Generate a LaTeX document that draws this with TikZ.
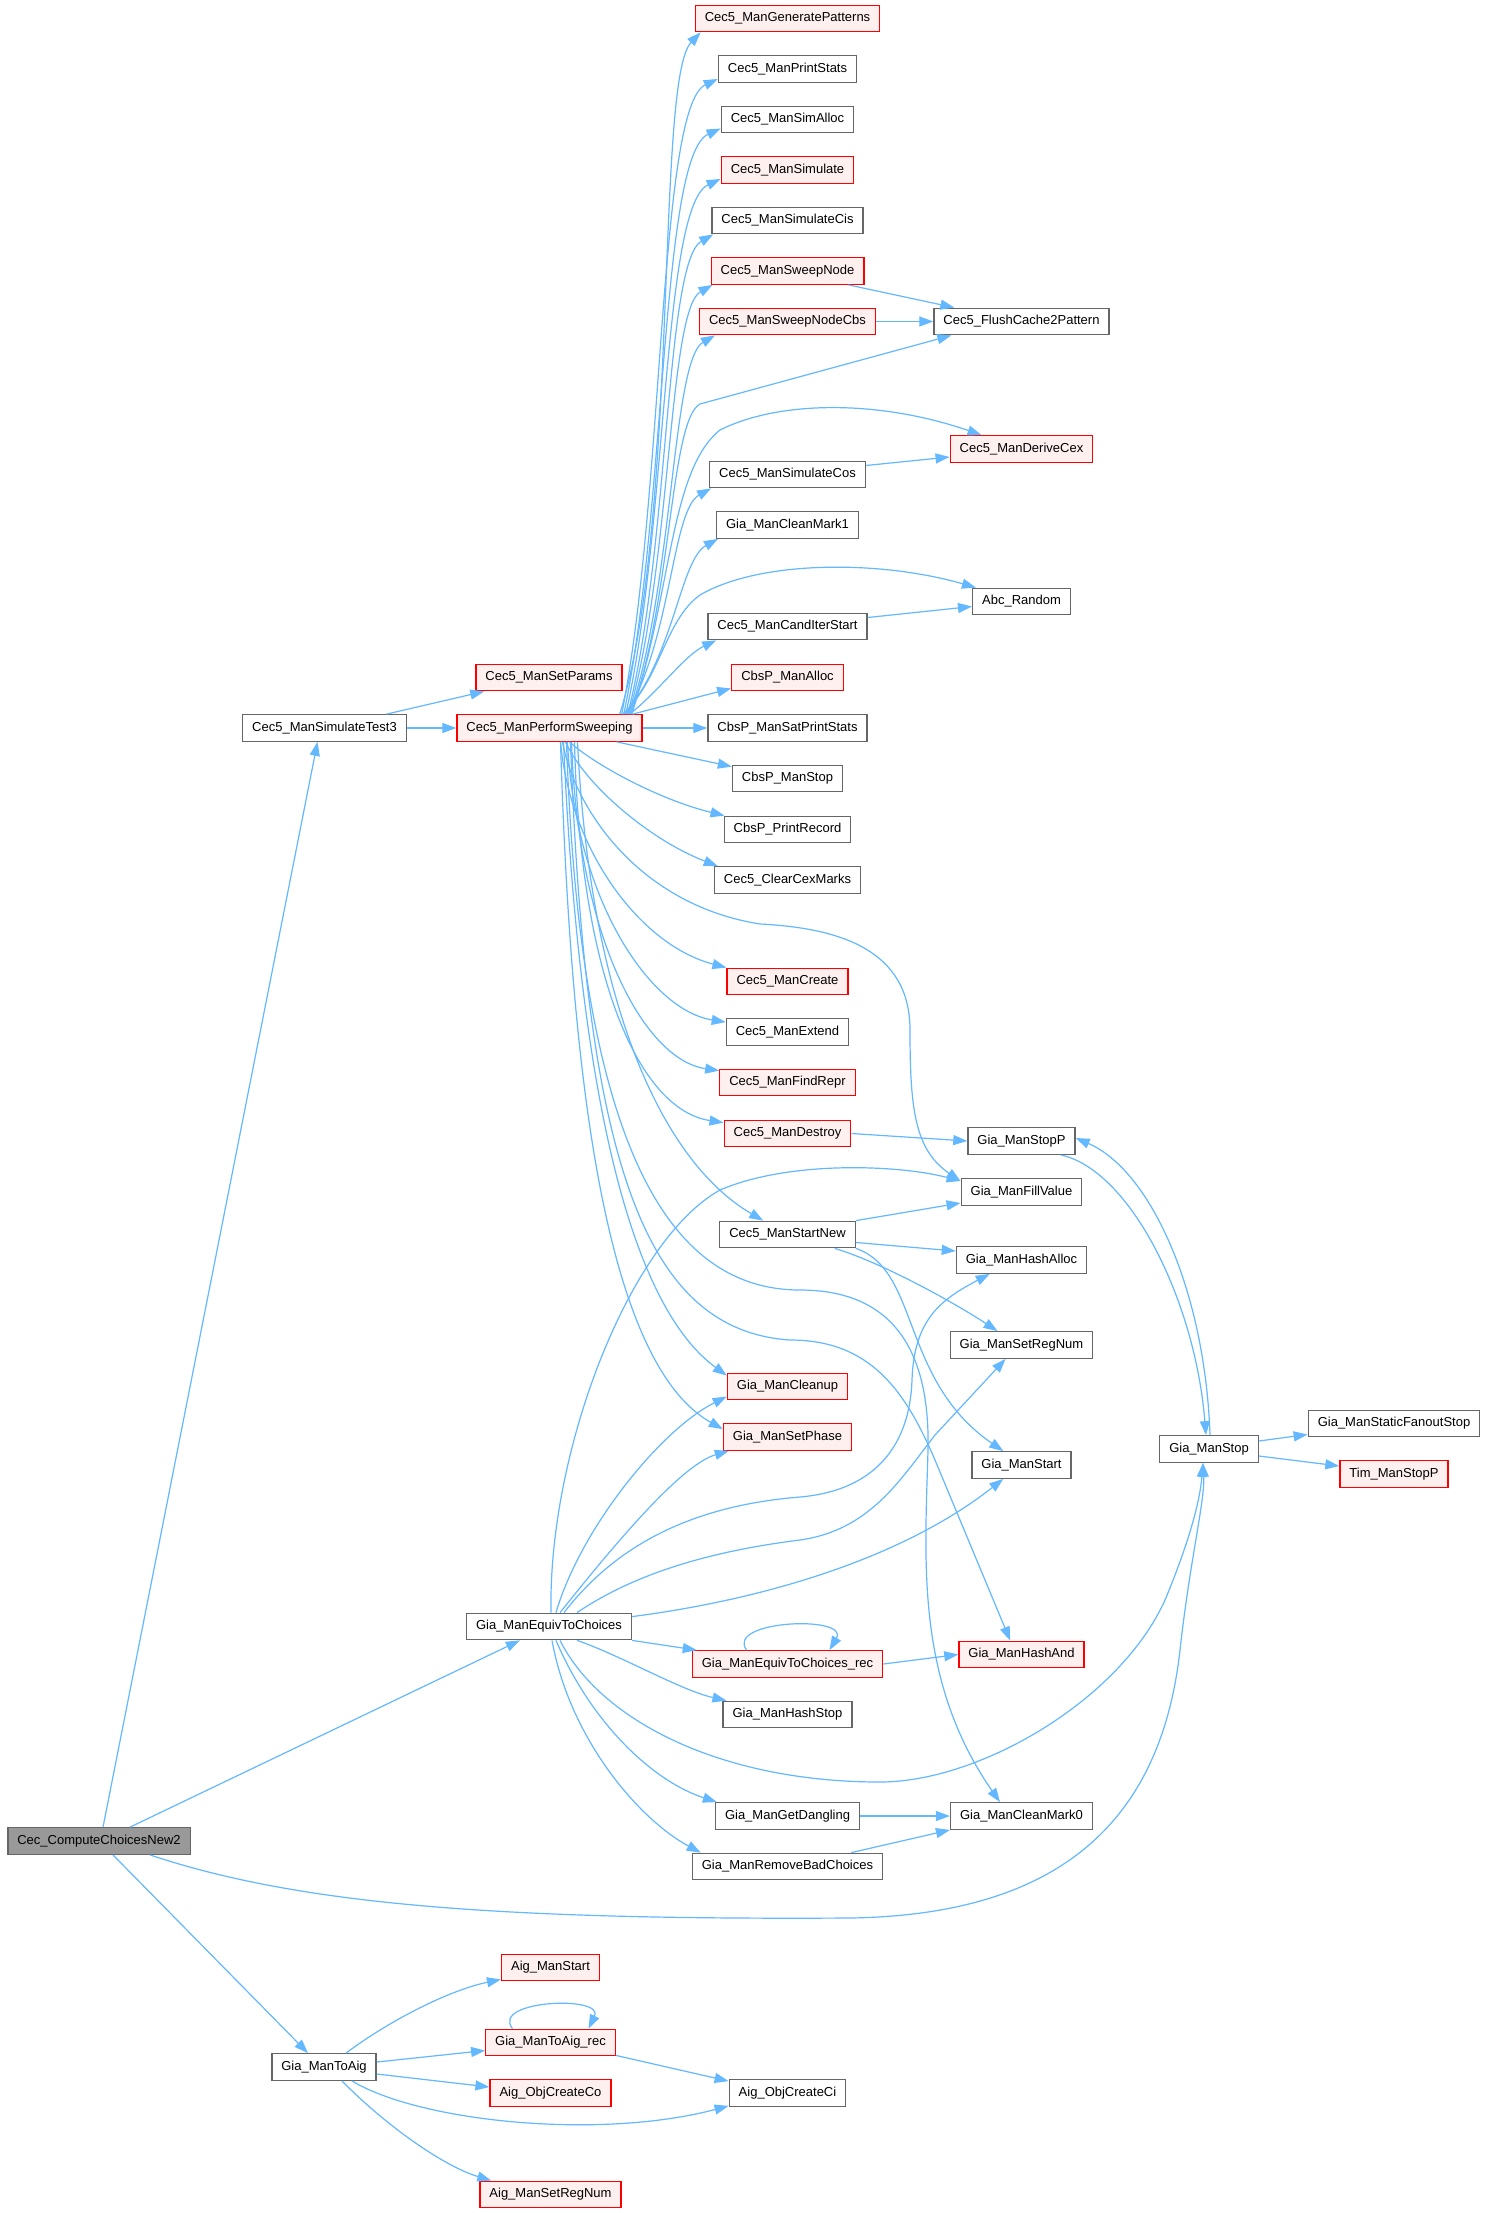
\documentclass[tikz,border=0pt]{standalone}
\usepackage{fontspec}
\setmainfont{Liberation Sans}
\usetikzlibrary{arrows.meta}
\definecolor{edgec}{HTML}{63B8FF}
\definecolor{bordc}{HTML}{666666}
\definecolor{redb}{HTML}{FF0000}
\definecolor{redf}{HTML}{FFF0F0}
\definecolor{rootf}{HTML}{999999}
\tikzset{
  nbox/.style={draw=bordc, fill=white, line width=1.3pt, inner xsep=9.5pt, inner ysep=0pt,
    minimum height=26.5pt, font=\fontsize{13}{15}\selectfont},
  rbox/.style={nbox, draw=redb, fill=redf},
  gbox/.style={nbox, fill=rootf},
  edg/.style={draw=edgec, line width=1.2pt, -{Triangle[length=14pt,width=10pt]}}
}
\begin{document}
\begin{tikzpicture}[x=1pt,y=-1pt]
\useasboundingbox[fill=white] (0,0) rectangle (1487,2213);
% left / root
\node[gbox] (cc) at (99,1841) {Cec\_ComputeChoicesNew2};
\node[nbox] (st3) at (324.5,728) {Cec5\_ManSimulateTest3};
\node[rbox] (sp) at (549,677.5) {Cec5\_ManSetParams};
\node[rbox] (ps) at (549.5,728) {Cec5\_ManPerformSweeping};
\node[nbox] (eq) at (549,1626.5) {Gia\_ManEquivToChoices};
\node[nbox] (ta) at (324,2067) {Gia\_ManToAig};
% middle column
\node[rbox] (gp) at (787.5,18.5) {Cec5\_ManGeneratePatterns};
\node[nbox] (pst) at (787.5,69) {Cec5\_ManPrintStats};
\node[nbox] (sa) at (787.5,119.5) {Cec5\_ManSimAlloc};
\node[rbox] (sim) at (787.5,170) {Cec5\_ManSimulate};
\node[nbox] (scis) at (787.5,220.5) {Cec5\_ManSimulateCis};
\node[rbox] (sn) at (787.5,271) {Cec5\_ManSweepNode};
\node[rbox] (snc) at (787.5,321.5) {Cec5\_ManSweepNodeCbs};
\node[nbox] (scos) at (787.5,474.5) {Cec5\_ManSimulateCos};
\node[nbox] (cm1) at (787.5,525) {Gia\_ManCleanMark1};
\node[nbox] (cis) at (787.5,626.5) {Cec5\_ManCandIterStart};
\node[rbox] (cba) at (787.5,677.5) {CbsP\_ManAlloc};
\node[nbox] (cbs) at (787.5,728) {CbsP\_ManSatPrintStats};
\node[nbox] (cbst) at (787.5,778.5) {CbsP\_ManStop};
\node[nbox] (cpr) at (787.5,829.5) {CbsP\_PrintRecord};
\node[nbox] (ccm) at (787.5,880) {Cec5\_ClearCexMarks};
\node[rbox] (mcr) at (787.5,981.5) {Cec5\_ManCreate};
\node[nbox] (mex) at (787.5,1032) {Cec5\_ManExtend};
\node[rbox] (mfr) at (787.5,1082.5) {Cec5\_ManFindRepr};
\node[rbox] (mds) at (787.5,1133.5) {Cec5\_ManDestroy};
\node[nbox] (msn) at (787.5,1234.5) {Cec5\_ManStartNew};
\node[rbox] (gcu) at (787.5,1386.5) {Gia\_ManCleanup};
\node[rbox] (gsp) at (787.5,1437) {Gia\_ManSetPhase};
\node[rbox] (eqr) at (787.5,1664) {Gia\_ManEquivToChoices\_rec};
\node[nbox] (ghs) at (787.5,1714.5) {Gia\_ManHashStop};
\node[nbox] (ggd) at (787.5,1816) {Gia\_ManGetDangling};
\node[nbox] (grb) at (787.5,1866.5) {Gia\_ManRemoveBadChoices};
% right column
\node[nbox] (fc) at (1021.5,321.5) {Cec5\_FlushCache2Pattern};
\node[rbox] (dc) at (1021.5,449) {Cec5\_ManDeriveCex};
\node[nbox] (ar) at (1021.5,601.5) {Abc\_Random};
\node[nbox] (gsto) at (1021.5,1141) {Gia\_ManStopP};
\node[nbox] (gfv) at (1021.5,1192) {Gia\_ManFillValue};
\node[nbox] (gha) at (1021.5,1260) {Gia\_ManHashAlloc};
\node[nbox] (gsr) at (1021.5,1345) {Gia\_ManSetRegNum};
\node[nbox] (gms) at (1021.5,1465) {Gia\_ManStart};
\node[rbox] (gand) at (1021.5,1654.5) {Gia\_ManHashAnd};
\node[nbox] (gcm0) at (1021.5,1816) {Gia\_ManCleanMark0};
% far right
\node[nbox] (gstop) at (1209,1449) {Gia\_ManStop};
\node[nbox] (gsf) at (1394,1423.5) {Gia\_ManStaticFanoutStop};
\node[rbox] (tim) at (1394,1474) {Tim\_ManStopP};
% bottom
\node[rbox] (ams) at (550.5,1967.5) {Aig\_ManStart};
\node[rbox] (tar) at (550.5,2042.5) {Gia\_ManToAig\_rec};
\node[rbox] (aco) at (550.5,2093) {Aig\_ObjCreateCo};
\node[rbox] (asr) at (550.5,2194.5) {Aig\_ManSetRegNum};
\node[nbox] (aci) at (787.5,2093) {Aig\_ObjCreateCi};

% ---- edges: root
\draw[edg] ([xshift=4pt]cc.north) -- ([xshift=-7pt]st3.south);
\draw[edg] ([xshift=31pt]cc.north) -- ([xshift=54pt]eq.south west);
\draw[edg] ([xshift=14pt]cc.south) -- ([xshift=-16pt]ta.north);
\draw[edg] ([xshift=51pt]cc.south) .. controls (300,1905) and (500,1920) .. (850,1918)
  .. controls (1050,1915) and (1160,1830) .. (1180,1650)
  .. controls (1190,1560) and (1205,1500) .. ([xshift=-6pt]gstop.south);
% simulate test
\draw[edg] (st3.east) -- (ps.west);
\draw[edg] ([xshift=62pt]st3.north) -- ([xshift=9pt]sp.south west);
% perform sweeping: upward fan
\draw[edg] ([xshift=-23pt]ps.north east) .. controls (680,520) and (655,80) .. ([xshift=6pt]gp.south west);
\draw[edg] ([xshift=-21pt]ps.north east) .. controls (665,493) and (658,107) .. ([yshift=-10pt]pst.west);
\draw[edg] ([xshift=-19pt]ps.north east) .. controls (667,510) and (660,156) .. ([yshift=-9pt]sa.west);
\draw[edg] ([xshift=-17pt]ps.north east) .. controls (668,527) and (662,206) .. ([yshift=-9pt]sim.west);
\draw[edg] ([xshift=-15pt]ps.north east) .. controls (670,547) and (665,262) .. ([xshift=2pt]scis.south west);
\draw[edg] ([xshift=-14pt]ps.north east) .. controls (672,564) and (668,310) .. ([xshift=2pt]sn.south west);
\draw[edg] ([xshift=-13pt]ps.north east) .. controls (674,582) and (672,360) .. ([xshift=16pt]snc.south west);
\draw[edg] ([xshift=-12pt]ps.north east) .. controls (672,600) and (670,420) .. (700,404) -- ([xshift=18pt]fc.south west);
\draw[edg] ([xshift=-11pt]ps.north east) .. controls (672,590) and (670,470) .. (720,430)
  .. controls (780,400) and (880,400) .. ([xshift=32pt]dc.north west);
\draw[edg] ([xshift=-16pt]ps.north east) .. controls (672,636) and (672,510) .. ([xshift=2pt]scos.south west);
\draw[edg] ([xshift=-18pt]ps.north east) .. controls (675,654) and (680,560) .. ([xshift=2pt]cm1.south west);
\draw[edg] ([xshift=-20pt]ps.north east) .. controls (660,680) and (665,620) .. (700,595)
  .. controls (760,560) and (880,560) .. ([xshift=4pt]ar.north west);
\draw[edg] ([xshift=-13pt]ps.north east) .. controls (660,690) and (685,655) .. ([xshift=9pt]cis.south west);
\draw[edg] ([xshift=-10pt]ps.north east) -- ([yshift=3pt]cba.south west);
\draw[edg] (ps.east) -- (cbs.west);
% perform sweeping: downward
\draw[edg] ([xshift=-26pt]ps.south east) -- ([yshift=-2pt]cbst.north west);
\draw[edg] ([xshift=20pt]ps.south) .. controls (595,765) and (660,800) .. ([xshift=1pt]cpr.north west);
\draw[edg] ([xshift=16pt]ps.south) .. controls (585,785) and (650,840) .. ([xshift=4pt]ccm.north west);
\draw[edg] ([xshift=13pt]ps.south) .. controls (575,810) and (640,905) .. (760,924)
  .. controls (840,928) and (910,950) .. (910,1030)
  .. controls (910,1110) and (915,1150) .. ([yshift=-3pt]gfv.north west);
\draw[edg] ([xshift=11pt]ps.south) .. controls (570,850) and (640,945) .. (mcr.north west);
\draw[edg] ([xshift=18pt]ps.south) .. controls (575,900) and (650,1010) .. ([yshift=-4pt]mex.north west);
\draw[edg] ([xshift=22pt]ps.south) .. controls (578,940) and (645,1060) .. ([yshift=-2pt]mfr.north west);
\draw[edg] ([xshift=25pt]ps.south) .. controls (580,980) and (640,1110) .. ([yshift=-3pt]mds.north west);
\draw[edg] ([xshift=28pt]ps.south) .. controls (590,1000) and (660,1160) .. ([xshift=44pt]msn.north west);
\draw[edg] ([xshift=14pt]ps.south) .. controls (575,1000) and (610,1290) .. ([yshift=-3pt]gcu.north west);
\draw[edg] ([xshift=11pt]ps.south) .. controls (570,1050) and (600,1360) .. ([yshift=-6pt]gsp.north west);
\draw[edg] ([xshift=21pt]ps.south) .. controls (585,1150) and (640,1330) .. (790,1340)
  .. controls (870,1340) and (905,1390) .. (935,1460) -- ([xshift=52pt]gand.north west);
\draw[edg] ([xshift=17pt]ps.south) .. controls (580,1150) and (670,1290) .. (800,1290)
  .. controls (900,1290) and (930,1360) .. (928,1450)
  .. controls (925,1560) and (915,1680) .. ([xshift=50pt]gcm0.north west);
% middle to right
\draw[edg] ([xshift=-16pt]sn.south east) -- ([xshift=21pt]fc.north west);
\draw[edg] (snc.east) -- (fc.west);
\draw[edg] ([yshift=9pt]scos.east) -- ([yshift=-8pt]dc.west);
\draw[edg] ([yshift=9pt]cis.east) -- ([yshift=-5pt]ar.west);
\draw[edg] (mds.east) -- (gsto.west);
\draw[edg] (msn.north east) -- ([yshift=-11pt]gfv.west);
\draw[edg] ([yshift=-8pt]msn.east) -- ([yshift=9pt]gha.west);
\draw[edg] ([xshift=-21pt]msn.south east) .. controls (880,1262) and (950,1300) .. ([xshift=48pt]gsr.north west);
\draw[edg] (msn.south east) .. controls (920,1270) and (900,1380) .. ([xshift=32pt]gms.north west);
% stop
\draw[edg] ([xshift=-15pt]gsto.south east) .. controls (1130,1170) and (1195,1300) .. ([xshift=-3pt]gstop.north);
\draw[edg] ([xshift=1pt]gstop.north) .. controls (1205,1290) and (1150,1170) .. ([yshift=3pt]gsto.east);
\draw[edg] ([yshift=8pt]gstop.east) -- ([yshift=-11pt]gsf.west);
\draw[edg] ([yshift=-7pt]gstop.east) -- ([yshift=8pt]tim.west);
% equiv to choices
\draw[edg] ([xshift=2pt]eq.north) .. controls (548,1450) and (630,1240) .. (720,1190)
  .. controls (790,1160) and (900,1165) .. ([yshift=11pt]gfv.west);
\draw[edg] ([xshift=7pt]eq.north) .. controls (580,1530) and (660,1430) .. ([yshift=-10pt]gcu.west);
\draw[edg] ([xshift=11pt]eq.north) .. controls (610,1550) and (680,1465) .. ([xshift=6pt]gsp.south west);
\draw[edg] ([xshift=15pt]eq.north) .. controls (620,1540) and (700,1505) .. (800,1497)
  .. controls (880,1490) and (910,1440) .. (912,1380)
  .. controls (914,1320) and (940,1300) .. ([xshift=34pt]gha.south west);
\draw[edg] ([xshift=28pt]eq.north) .. controls (640,1570) and (720,1550) .. (800,1540)
  .. controls (870,1530) and (900,1480) .. (935,1435) -- ([xshift=56pt]gsr.south west);
\draw[edg] ([yshift=-4pt]eq.north east) .. controls (760,1600) and (900,1560) .. ([xshift=32pt]gms.south west);
\draw[edg] (eq.south east) -- ([xshift=5pt]eqr.north west);
\draw[edg] ([xshift=28pt]eq.south) .. controls (620,1655) and (680,1690) .. ([xshift=4pt]ghs.north west);
\draw[edg] ([xshift=11pt]eq.south) .. controls (600,1720) and (720,1782) .. (880,1782)
  .. controls (980,1782) and (1120,1700) .. (1165,1600)
  .. controls (1190,1540) and (1200,1500) .. ([xshift=-6pt]gstop.south);
\draw[edg] ([xshift=7pt]eq.south) .. controls (590,1720) and (650,1780) .. ([xshift=2pt]ggd.north west);
\draw[edg] ([xshift=3pt]eq.south) .. controls (570,1740) and (640,1820) .. ([xshift=9pt]grb.north west);
\draw[edg] ([xshift=-41pt]eqr.north) .. controls (725,1620) and (850,1615) .. ([xshift=42pt]eqr.north);
\draw[edg] (eqr.east) -- (gand.west);
\draw[edg] (ggd.east) -- (gcm0.west);
\draw[edg] ([xshift=-32pt]grb.north east) -- (gcm0.south west);
% to aig
\draw[edg] ([xshift=22pt]ta.north) .. controls (390,2020) and (450,1990) .. ([yshift=2pt]ams.south west);
\draw[edg] ([yshift=5pt]ta.east) -- ([yshift=-8pt]tar.west);
\draw[edg] ([yshift=-7pt]ta.east) -- ([yshift=6pt]aco.west);
\draw[edg] ([xshift=28pt]ta.south) .. controls (420,2122) and (600,2140) .. ([yshift=1pt]aci.south west);
\draw[edg] ([xshift=18pt]ta.south) .. controls (380,2120) and (440,2165) .. ([xshift=12pt]asr.north west);
\draw[edg] ([xshift=-38pt]tar.north) .. controls (490,2000) and (605,1995) .. ([xshift=38pt]tar.north);
\draw[edg] ([yshift=1pt]tar.south east) -- ([yshift=-2pt]aci.north west);
\end{tikzpicture}
\end{document}
